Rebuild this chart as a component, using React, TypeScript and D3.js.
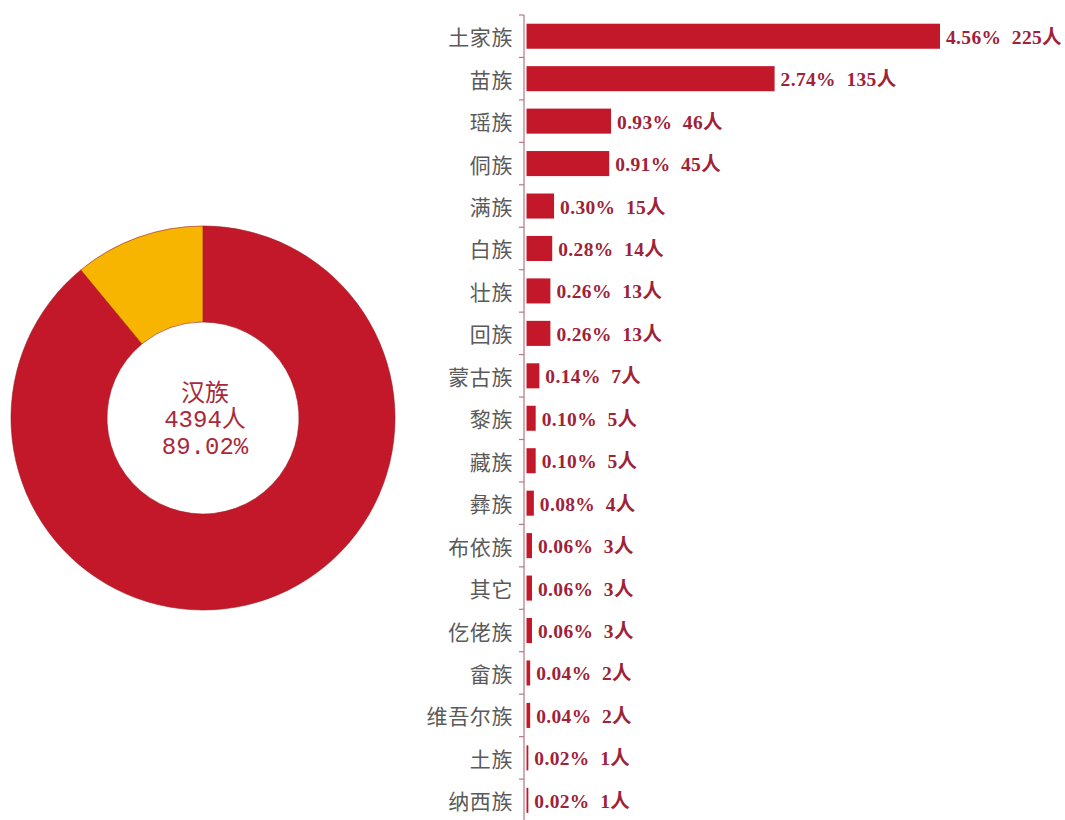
import React from "react";
import * as d3 from "d3";

const categories = ["土家族","苗族","瑶族","侗族","满族","白族","壮族","回族","蒙古族","黎族","藏族","彝族","布依族","其它","仡佬族","畲族","维吾尔族","土族","纳西族"];
const counts = [225,135,46,45,15,14,13,13,7,5,5,4,3,3,3,2,2,1,1];
const percents = ["4.56%","2.74%","0.93%","0.91%","0.30%","0.28%","0.26%","0.26%","0.14%","0.10%","0.10%","0.08%","0.06%","0.06%","0.06%","0.04%","0.04%","0.02%","0.02%"];
const donutLabels = ["汉族", "其他"];
const donutValues = [4394, 542];
const centerLines = ["汉族", "4394人", "89.02%"];

const RED = "#c3182a";
const YELLOW = "#f7b500";

export default function App() {
  const W = 1065, H = 820;
  const axisX = 524;
  const top = 15;
  const step = 42.45;
  const y = d3.scaleBand<string>().domain(categories).range([top, top + step * categories.length]).paddingInner(0.41).paddingOuter(0.205);
  const x = d3.scaleLinear().domain([0, 225]).range([526.5, 940]);

  const pie = d3.pie<number>().sort(null).value((d) => d)(donutValues);
  const arc = d3.arc<d3.PieArcDatum<number>>().innerRadius(96).outerRadius(192);
  const cx = 203, cy = 418;

  return (
    <svg width={W} height={H} style={{ position: "absolute", left: 0, top: 0 }}>
      <rect width={W} height={H} fill="#fff" />
      <g transform={`translate(${cx},${cy})`}>
        {pie.map((p, i) => (
          <path key={donutLabels[i]} d={arc(p) || ""} fill={i === 0 ? RED : YELLOW} stroke="#9a1a1f" strokeWidth={0.6} />
        ))}
        {centerLines.map((t, i) => (
          <text key={t} x={2} y={-24 + i * 26.5} textAnchor="middle" dominantBaseline="central" fontFamily="'Liberation Mono','Noto Sans CJK SC'" fontSize={24} fill="#a8283c">{t}</text>
        ))}
      </g>
      <line x1={axisX} x2={axisX} y1={top} y2={H} stroke="#b87682" strokeWidth={1.2} />
      {d3.range(categories.length + 1).map((i) => (
        <line key={i} x1={axisX - 5} x2={axisX} y1={top + i * step} y2={top + i * step} stroke="#b87682" strokeWidth={1.2} />
      ))}
      {categories.map((c, i) => {
        const yy = y(c)!;
        const bw = y.bandwidth();
        const xe = x(counts[i]);
        return (
          <g key={c}>
            <rect x={x(0)} y={yy} width={xe - x(0)} height={bw} fill={RED} />
            <text x={axisX - 11} y={yy + bw / 2} textAnchor="end" dominantBaseline="central" fontFamily="'Noto Sans CJK SC'" fontSize={21} letterSpacing={0.6} fill="#5a5a5a">{c}</text>
            <text x={xe + 6} y={yy + bw / 2 + 1} dominantBaseline="central" fontFamily="'Liberation Serif','Noto Sans CJK SC'" fontWeight="bold" fontSize={19.5} letterSpacing={0.35} fill="#9e2238" style={{ whiteSpace: "pre" }}>{`${percents[i]}  ${counts[i]}人`}</text>
          </g>
        );
      })}
    </svg>
  );
}
